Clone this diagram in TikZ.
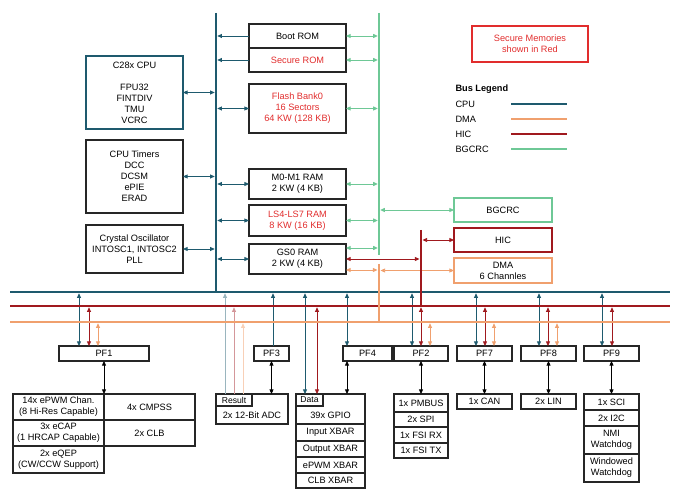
\documentclass[tikz,border=0pt]{standalone}
\usepackage{fontspec}
\setmainfont{Liberation Sans}
\usetikzlibrary{arrows.meta, calc, positioning}

\definecolor{cpuc}{HTML}{1E5A6E}
\definecolor{dmac}{HTML}{F0A06E}
\definecolor{hicc}{HTML}{A0191E}
\definecolor{crcc}{HTML}{6EC896}
\definecolor{securec}{HTML}{E12D2D}

\tikzset{
  blk/.style={draw=black!85, line width=1.1pt, inner sep=0pt, outer sep=0pt, align=center},
  bus/.style={line width=2.6pt},
  cpuwire/.style={cpuc, line width=0.85pt},
  dmawire/.style={dmac, line width=0.85pt},
  hicwire/.style={hicc, line width=0.85pt},
  crcwire/.style={crcc, line width=0.85pt},
  tab/.style={blk, font=\fontsize{8.6}{10}\selectfont, minimum height=12pt, anchor=north west}
}

\begin{document}
\begin{tikzpicture}[x=1pt, y=-1pt, >={Triangle[length=4.6pt,width=4pt]}, font=\fontsize{9.2}{11}\selectfont]
\useasboundingbox (0,0) rectangle (680,502);

% bus ends
\coordinate (cputop) at (216,13);
\coordinate (crctop) at (379,13);
\coordinate (hictop) at (421,230);
\coordinate (dmatop) at (379,264);

% left blocks
\node[blk, draw=cpuc, line width=2.3pt, minimum width=97pt, minimum height=73pt] (cpu) at (134.5,92.5) {C28x CPU\\[11pt]FPU32\\FINTDIV\\TMU\\VCRC};
\node[blk, minimum width=97pt, minimum height=73pt] (timers) at (134.5,176.5) {CPU Timers\\DCC\\DCSM\\ePIE\\ERAD};
\node[blk, minimum width=97pt, minimum height=48pt] (xtal) at (134.5,249) {Crystal Oscillator\\INTOSC1, INTOSC2\\PLL};

% memories
\node[blk, minimum width=97pt, minimum height=24pt] (boot) at (297.5,36) {Boot ROM};
\node[blk, text=securec, minimum width=97pt, minimum height=24pt, below=0pt of boot] (secrom) {Secure ROM};
\node[blk, text=securec, minimum width=97pt, minimum height=49pt] (flash) at (297.5,108.5) {Flash Bank0\\16 Sectors\\64 KW (128 KB)};
\node[blk, minimum width=97pt, minimum height=30pt] (m0) at (297.5,184) {M0-M1 RAM\\2 KW (4 KB)};
\node[blk, text=securec, minimum width=97pt, minimum height=31pt] (ls) at (297.5,220.5) {LS4-LS7 RAM\\8 KW (16 KB)};
\node[blk, minimum width=97pt, minimum height=30pt] (gs0) at (297.5,259) {GS0 RAM\\2 KW (4 KB)};

% masters on the right
\node[blk, draw=crcc, minimum width=98pt, minimum height=24pt] (bgcrc) at (503,210) {BGCRC};
\node[blk, draw=hicc, minimum width=98pt, minimum height=24pt] (hic) at (503,240) {HIC};
\node[blk, draw=dmac, minimum width=98pt, minimum height=25pt] (dma) at (503,270.5) {DMA\\6 Channles};

% note and legend
\node[blk, draw=securec, text=securec, minimum width=116pt, minimum height=36pt] (secnote) at (530,44) {Secure Memories\\shown in Red};
\node[anchor=west, font=\fontsize{9.2}{11}\selectfont\bfseries] (legtitle) at (452,89) {Bus Legend};
\foreach \y/\name/\col in {104/CPU/cpuc, 119/DMA/dmac, 134/HIC/hicc, 149/BGCRC/crcc} {
  \node[anchor=west] (leg\name) at (452,\y) {\name};
  \draw[bus, \col] (511,\y) -- (567,\y);
}

% peripheral frames
\node[blk, minimum width=90pt, minimum height=15pt] (pf1) at (104,353.5) {PF1};
\node[blk, minimum width=35pt, minimum height=15pt] (pf3) at (271.5,353.5) {PF3};
\node[blk, minimum width=49pt, minimum height=15pt] (pf4) at (367.5,353.5) {PF4};
\node[blk, minimum width=54pt, minimum height=15pt] (pf2) at (421,353.5) {PF2};
\node[blk, minimum width=55pt, minimum height=15pt] (pf7) at (484.5,353.5) {PF7};
\node[blk, minimum width=55pt, minimum height=15pt] (pf8) at (548.5,353.5) {PF8};
\node[blk, minimum width=55pt, minimum height=15pt] (pf9) at (611.5,353.5) {PF9};

% control peripherals
\node[blk, minimum width=91pt, minimum height=26pt] (pwm) at (58.5,407) {14x ePWM Chan.\\(8 Hi-Res Capable)};
\node[blk, minimum width=91pt, minimum height=26pt, below=0pt of pwm] (ecap) {3x eCAP\\(1 HRCAP Capable)};
\node[blk, minimum width=91pt, minimum height=27pt, below=0pt of ecap] (eqep) {2x eQEP\\(CW/CCW Support)};
\node[blk, minimum width=91pt, minimum height=26pt, right=0pt of pwm] (cmpss) {4x CMPSS};
\node[blk, minimum width=91pt, minimum height=26pt, below=0pt of cmpss] (clb) {2x CLB};

% adc
\node[blk, minimum width=72pt, minimum height=30pt] (adc) at (252,409) {};
\node[tab, minimum width=36pt] (adctab) at (adc.north west) {Result};
\node (adctxt) at (252,415.5) {2x 12-Bit ADC};

% gpio and xbars
\node[blk, minimum width=69pt, minimum height=30pt] (gpio) at (330.5,409) {};
\node[tab, minimum width=27pt] (data) at (gpio.north west) {Data};
\node (gpiotxt) at (330.5,415.5) {39x GPIO};
\node[blk, minimum width=69pt, minimum height=17pt, below=0pt of gpio] (inxbar) {Input XBAR};
\node[blk, minimum width=69pt, minimum height=16pt, below=0pt of inxbar] (outxbar) {Output XBAR};
\node[blk, minimum width=69pt, minimum height=16pt, below=0pt of outxbar] (pwmxbar) {ePWM XBAR};
\node[blk, minimum width=69pt, minimum height=15pt, below=0pt of pwmxbar] (clbxbar) {CLB XBAR};

% comms
\node[blk, minimum width=54pt, minimum height=18pt] (pmbus) at (421,403) {1x PMBUS};
\node[blk, minimum width=54pt, minimum height=15pt, below=0pt of pmbus] (spi) {2x SPI};
\node[blk, minimum width=54pt, minimum height=16pt, below=0pt of spi] (fsirx) {1x FSI RX};
\node[blk, minimum width=54pt, minimum height=15pt, below=0pt of fsirx] (fsitx) {1x FSI TX};
\node[blk, minimum width=55pt, minimum height=15pt] (can) at (484.5,401.5) {1x CAN};
\node[blk, minimum width=55pt, minimum height=15pt] (lin) at (548.5,401.5) {2x LIN};
\node[blk, minimum width=55pt, minimum height=16pt] (sci) at (611.5,402) {1x SCI};
\node[blk, minimum width=55pt, minimum height=16pt, below=0pt of sci] (i2c) {2x I2C};
\node[blk, minimum width=55pt, minimum height=28pt, below=0pt of i2c] (nmi) {NMI\\Watchdog};
\node[blk, minimum width=55pt, minimum height=28pt, below=0pt of nmi] (wwd) {Windowed\\Watchdog};

% cpu bus links
\draw[cpuwire, ->, shorten >=1.3pt] (boot.west) -- (boot.west -| cputop);
\draw[cpuwire, ->, shorten >=1.3pt] (secrom.west) -- (secrom.west -| cputop);
\foreach \m in {flash, m0, ls, gs0}
  \draw[cpuwire, <->, shorten >=1.3pt] (\m.west) -- (\m.west -| cputop);
\foreach \m in {cpu, timers, xtal}
  \draw[cpuwire, <->, shorten >=1.3pt] (\m.east) -- (\m.east -| cputop);

% bgcrc, hic and dma links
\foreach \m in {boot, secrom, flash, m0, ls}
  \draw[crcwire, <->, shorten >=1.2pt] (\m.east) -- (\m.east -| crctop);
\coordinate (gs0crc) at ([yshift=11pt]gs0.east);
\coordinate (gs0dma) at ([yshift=-11pt]gs0.east);
\draw[crcwire, <->, shorten >=1.2pt] (gs0crc) -- (gs0crc -| crctop);
\draw[hicwire, <->, shorten >=1.5pt] (gs0.east) -- (gs0.east -| hictop);
\draw[dmawire, <->, shorten >=1.5pt] (gs0dma) -- (gs0dma -| dmatop);
\draw[dmawire, <->, shorten >=1.5pt] (dma.west) -- (dma.west -| dmatop);
\draw[crcwire, <->, shorten >=1.2pt] (bgcrc.west) -- (bgcrc.west -| crctop);
\draw[hicwire, <->, shorten >=1.5pt] (hic.west) -- (hic.west -| hictop);

% taps from the peripheral buses
\foreach \x/\pf in {79/pf1, 305/data, 347/pf4, 412/pf2, 476/pf7, 539/pf8, 602/pf9} {
  \coordinate (tap) at (\x,293.3);
  \draw[cpuwire, <->] (tap) -- (tap |- \pf.north);
}
\foreach \x/\pf in {89/pf1, 317/data, 421/pf2, 485/pf7, 548/pf8, 612/pf9} {
  \coordinate (tap) at (\x,307.3);
  \draw[hicwire, <->] (tap) -- (tap |- \pf.north);
}
\foreach \x/\pf in {98/pf1, 430/pf2, 494/pf7, 557/pf8} {
  \coordinate (tap) at (\x,323.3);
  \draw[dmawire, <->] (tap) -- (tap |- \pf.north);
}
\coordinate (tap) at (273,293.3);
\draw[cpuwire, <-] (tap) -- (tap |- pf3.north);
\coordinate (tap) at (225,293.3);
\draw[cpuwire, cpuc!45, <-] (tap) -- (tap |- adctab.north);
\coordinate (tap) at (234,307.3);
\draw[hicwire, hicc!45, <-] (tap) -- (tap |- adctab.north);
\coordinate (tap) at (243,323.3);
\draw[dmawire, dmac!50, <-] (tap) -- (tap |- adctab.north);

% frame to peripheral
\foreach \pf/\dev in {pf1/pwm, pf3/adc, pf2/pmbus, pf7/can, pf8/lin, pf9/sci}
  \draw[line width=0.85pt, <->] (\pf.south) -- (\pf.south |- \dev.north west);
\coordinate (pf4dn) at (347,361);
\draw[line width=0.85pt, <->] (pf4dn) -- (pf4dn |- gpio.north);

% buses
\draw[bus, dmac] (10,322) -- (670,322);
\draw[bus, hicc] (10,306) -- (670,306);
\draw[bus, cpuc] (10,292) -- (670,292);
\draw[bus, cpuc] (cputop) -- (216,293.3);
\draw[bus, crcc, line width=2.3pt] (crctop) -- (379,255);
\draw[bus, dmac] (dmatop) -- (379,323.3);
\draw[bus, hicc] (hictop) -- (421,307.3);
\end{tikzpicture}
\end{document}
